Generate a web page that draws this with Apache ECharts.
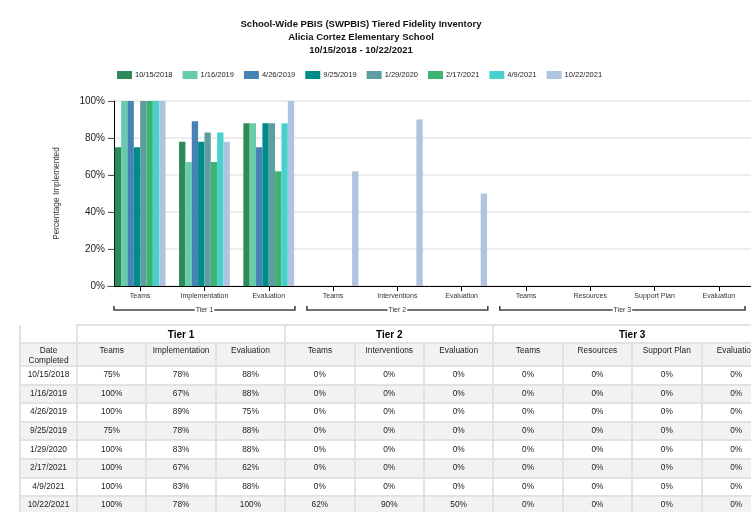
<!DOCTYPE html>
<html>
<head>
<meta charset="utf-8">
<script src="https://cdn.jsdelivr.net/npm/echarts@6/dist/echarts.min.js"></script>
<style>
  html, body { margin: 0; padding: 0; width: 751px; height: 512px; overflow: hidden; background: #fff; }
  #chart { position: absolute; left: 0; top: 0; width: 751px; height: 512px; }
  #tbl { position: absolute; left: 19px; top: 324px; width: 751px; border-collapse: collapse; table-layout: fixed;
         font-family: "Liberation Sans", Arial, sans-serif; font-size: 8.3px; color: #222; }
  #tbl td { border: 2px solid #e2e2e2; text-align: center; padding: 0; overflow: hidden; white-space: nowrap; }
  #tbl tr.tier td { height: 16px; font-weight: bold; font-size: 10px; color: #000; background: #fff; }
  #tbl tr.hdr td { height: 19px; vertical-align: top; padding-top: 2px; line-height: 9.5px; background: #f2f2f2; white-space: normal; }
  #tbl tr.row td { height: 14.6px; vertical-align: middle; padding-bottom: 2px; }
  #tbl tr.row.alt td { background: #f2f2f2; }
  #tbl td.blank { border-top: none; background: #fff; }
</style>
</head>
<body>
<div id="chart"></div>
<table id="tbl"></table>
<script>
// ---------- data ----------
const titleLines = ['School-Wide PBIS (SWPBIS) Tiered Fidelity Inventory', 'Alicia Cortez Elementary School', '10/15/2018 - 10/22/2021'];
const categories = ['Teams', 'Implementation', 'Evaluation', 'Teams', 'Interventions', 'Evaluation', 'Teams', 'Resources', 'Support Plan', 'Evaluation'];
const tierNames = ['Tier 1', 'Tier 2', 'Tier 3'];
const tierSizes = [3, 3, 4];
const dates = ['10/15/2018', '1/16/2019', '4/26/2019', '9/25/2019', '1/29/2020', '2/17/2021', '4/9/2021', '10/22/2021'];
const v_2018_10_15 = [75, 78, 88, 0, 0, 0, 0, 0, 0, 0];
const v_2019_01_16 = [100, 67, 88, 0, 0, 0, 0, 0, 0, 0];
const v_2019_04_26 = [100, 89, 75, 0, 0, 0, 0, 0, 0, 0];
const v_2019_09_25 = [75, 78, 88, 0, 0, 0, 0, 0, 0, 0];
const v_2020_01_29 = [100, 83, 88, 0, 0, 0, 0, 0, 0, 0];
const v_2021_02_17 = [100, 67, 62, 0, 0, 0, 0, 0, 0, 0];
const v_2021_04_09 = [100, 83, 88, 0, 0, 0, 0, 0, 0, 0];
const v_2021_10_22 = [100, 78, 100, 62, 90, 50, 0, 0, 0, 0];
const yTicks = [0, 20, 40, 60, 80, 100];
const yAxisName = 'Percentage Implemented';
const tableCorner = 'Date Completed';

const seriesValues = [v_2018_10_15, v_2019_01_16, v_2019_04_26, v_2019_09_25, v_2020_01_29, v_2021_02_17, v_2021_04_09, v_2021_10_22];
const colors = ['#2E8B57', '#66CDAA', '#4682B4', '#008B8B', '#5F9EA0', '#3CB371', '#48D1CC', '#B0C4DE'];
const FONT = '"Liberation Sans", Arial, sans-serif';

// ---------- chart ----------
const chart = echarts.init(document.getElementById('chart'), null, { renderer: 'canvas' });
chart.setOption({
  animation: false,
  color: colors,
  textStyle: { fontFamily: FONT },
  title: {
    text: titleLines.join('\n'),
    left: 356, top: 13, textAlign: 'center',
    textStyle: { fontSize: 9.5, fontWeight: 'bold', color: '#111', lineHeight: 13, fontFamily: FONT }
  },
  legend: {
    left: 112, top: 66, itemWidth: 15, itemHeight: 8, itemGap: 10,
    icon: 'rect',
    textStyle: { fontSize: 7.5, color: '#222', fontFamily: FONT, padding: [0, 0, 0, -2] },
    data: dates
  },
  grid: { left: 108, right: -2, top: 101, height: 185, containLabel: false },
  xAxis: {
    type: 'category', data: categories, boundaryGap: true,
    axisLine: { lineStyle: { color: '#000', width: 1 } },
    axisTick: { show: true, alignWithLabel: true, length: 5, lineStyle: { color: '#000' } },
    axisLabel: { fontSize: 7, color: '#333', margin: 7, interval: 0, fontFamily: FONT },
    splitLine: { show: false }
  },
  yAxis: {
    type: 'value', min: yTicks[0], max: yTicks[yTicks.length - 1], interval: yTicks[1] - yTicks[0],
    offset: -6,
    name: yAxisName, nameLocation: 'middle', nameGap: 53, nameRotate: 90,
    nameTextStyle: { fontSize: 8.3, color: '#333', fontFamily: FONT },
    axisLine: { show: true, lineStyle: { color: '#000', width: 1 } },
    axisTick: { show: true, length: 6, lineStyle: { color: '#555' } },
    axisLabel: { formatter: '{value}%', fontSize: 10, color: '#222', margin: 9, fontFamily: FONT },
    splitLine: { show: true, lineStyle: { color: '#e6e6e6', width: 1.5 } }
  },
  series: dates.map((d, i) => ({
    name: d, type: 'bar', data: seriesValues[i],
    barGap: 0, barCategoryGap: '21%',
    itemStyle: { color: colors[i] }
  }))
});

// tier brackets under the category axis, placed from the axis scale
function drawBrackets() {
  const c0 = chart.convertToPixel({ xAxisIndex: 0 }, 0);
  const c1 = chart.convertToPixel({ xAxisIndex: 0 }, 1);
  const bw = c1 - c0;
  const yLine = 310, yTop = 306;
  const els = [];
  let start = 0;
  tierSizes.forEach((n, t) => {
    const first = chart.convertToPixel({ xAxisIndex: 0 }, start);
    const last = chart.convertToPixel({ xAxisIndex: 0 }, start + n - 1);
    const x1 = first - bw / 2 + 6;
    let x2 = last + bw / 2 - 6;
    if (x2 > 747) x2 = 747;
    els.push({
      type: 'polyline', silent: true,
      shape: { points: [[x1, yTop], [x1, yLine], [x2, yLine], [x2, yTop]] },
      style: { stroke: '#444', lineWidth: 1.6, fill: null }
    });
    els.push({
      type: 'text', silent: true, z: 10,
      x: (x1 + x2) / 2, y: yLine,
      style: { text: tierNames[t], fontSize: 7, fill: '#333', fontFamily: FONT,
               align: 'center', verticalAlign: 'middle', backgroundColor: '#fff', padding: [0, 1] }
    });
    start += n;
  });
  chart.setOption({ graphic: els });
}
drawBrackets();

// ---------- table ----------
const tbl = document.getElementById('tbl');
let html = '<colgroup><col style="width:57px">' + categories.map(() => '<col style="width:69.4px">').join('') + '</colgroup>';
html += '<tr class="tier"><td class="blank"></td>' + tierNames.map((t, i) => `<td colspan="${tierSizes[i]}">${t}</td>`).join('') + '</tr>';
html += '<tr class="hdr"><td>' + tableCorner.replace(' ', '<br>') + '</td>' + categories.map(c => `<td>${c}</td>`).join('') + '</tr>';
dates.forEach((d, i) => {
  html += `<tr class="row${i % 2 === 1 ? ' alt' : ''}"><td>${d}</td>` + seriesValues[i].map(v => `<td>${v}%</td>`).join('') + '</tr>';
});
tbl.innerHTML = html;
</script>
</body>
</html>
